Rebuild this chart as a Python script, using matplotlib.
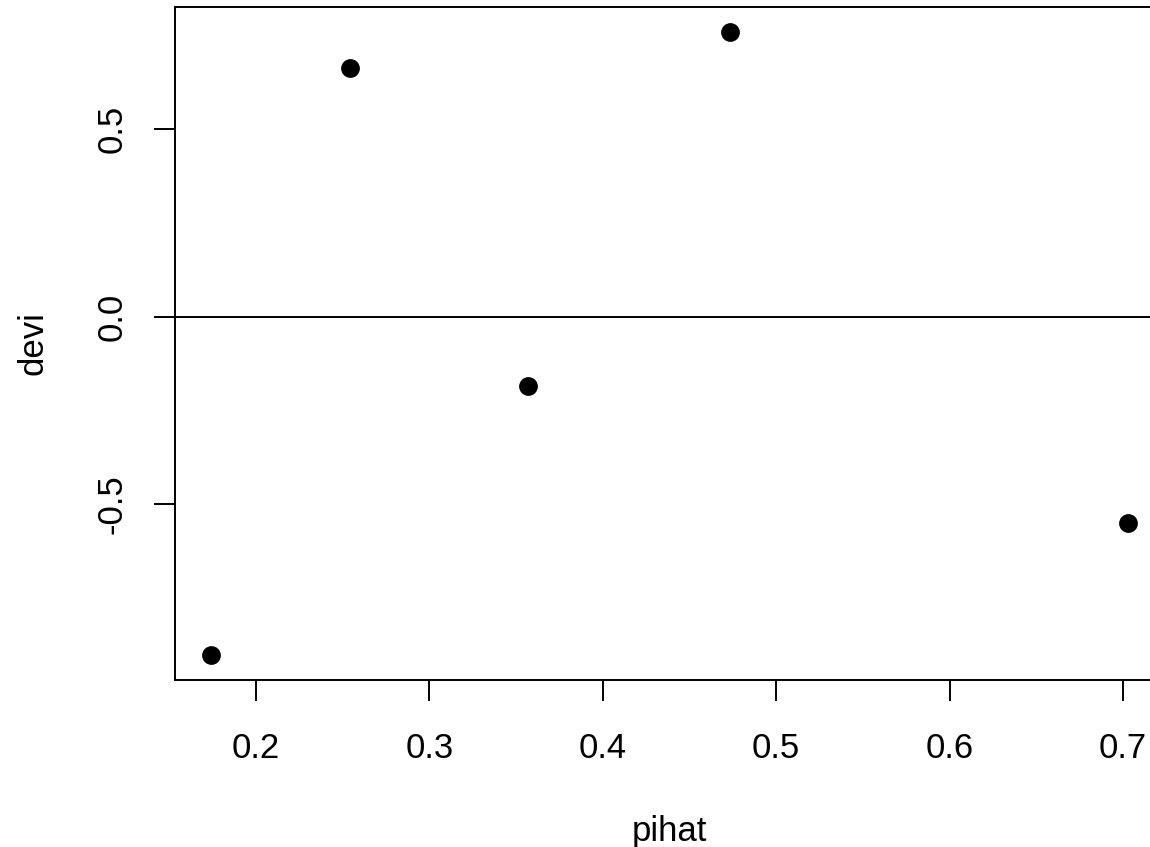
import matplotlib
matplotlib.use("Agg")
from matplotlib import pyplot as plt

# values
pihat = [0.1742, 0.2542, 0.357, 0.4735, 0.703]
devi = [-0.900, 0.663, -0.184, 0.758, -0.549]
xticks = [0.2, 0.3, 0.4, 0.5, 0.6, 0.7]
yticks = [-0.5, 0.0, 0.5]

plt.rcParams['font.family'] = ['Liberation Sans', 'DejaVu Sans']

W, H = 1150, 847
fig = plt.figure(figsize=(W / 100, H / 100), dpi=100)

# plot box in pixels (right edge runs past the image like the R original)
left, right, top, bottom = 174.5, 1165, 7.5, 679.5
ax = fig.add_axes([left / W, (H - bottom) / H, (right - left) / W, (bottom - top) / H])

ax.plot(pihat, devi, 'o', color='black', markersize=12.5)
ax.axhline(0, color='black', linewidth=1.4)

# R style 4% padding
xr = max(pihat) - min(pihat)
yr = max(devi) - min(devi)
ax.set_xlim(min(pihat) - 0.04 * xr, max(pihat) + 0.04 * xr)
ax.set_ylim(min(devi) - 0.04 * yr, max(devi) + 0.04 * yr)

ax.set_xticks(xticks)
ax.set_xticklabels([f"{v:.1f}" for v in xticks])
ax.set_yticks(yticks)
ax.set_yticklabels([f"{v:.1f}" for v in yticks], rotation=90, va='center')

ax.tick_params(axis='both', length=15, width=1.4, labelsize=25, color='black')
ax.tick_params(axis='x', pad=23)
ax.tick_params(axis='y', pad=18)

for s in ax.spines.values():
    s.set_linewidth(1.4)

ax.set_xlabel('pihat', fontsize=25, labelpad=36)
ax.set_ylabel('devi', fontsize=25, labelpad=33)

fig.savefig('out.png', dpi=100)
